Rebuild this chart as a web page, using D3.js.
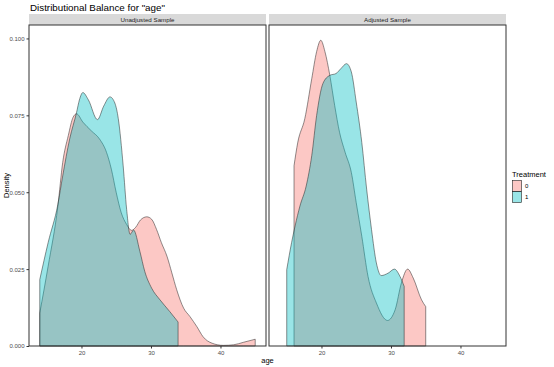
<!DOCTYPE html>
<html>
<head>
<meta charset="utf-8">
<script src="https://cdn.jsdelivr.net/npm/d3@7"></script>
<style>
  body { margin: 0; background: #fff; }
  svg { display: block; font-family: "Liberation Sans", Arial, sans-serif; }
</style>
</head>
<body>
<div id="chart"></div>
<script>
// density curves: [age, density]
const panels = ["Unadjusted Sample", "Adjusted Sample"];
const treatments = ["0", "1"];
const colors = { "0": "#F8766D", "1": "#00BFC4" };

const unadj0 = [
  [14.0, 0.0107], [15.2, 0.0259], [16.6, 0.0454], [17.3, 0.0597], [18.1, 0.0684],
  [18.8, 0.0744], [19.3, 0.0755], [20.2, 0.0728], [21.4, 0.0700], [22.6, 0.0673],
  [23.6, 0.0630], [24.3, 0.0575], [25.0, 0.0499], [25.7, 0.0435], [26.5, 0.0395],
  [27.2, 0.0376], [27.8, 0.0386], [28.5, 0.0410], [29.4, 0.0420], [30.1, 0.0412],
  [30.8, 0.0379], [31.5, 0.0336], [32.3, 0.0292], [33.0, 0.0238], [33.7, 0.0183],
  [34.7, 0.0123], [35.6, 0.0096], [36.6, 0.0063], [37.5, 0.0030], [38.8, 0.0009],
  [40.4, 0.0002], [41.9, 0.0004], [43.3, 0.0012], [45.0, 0.0022]
];
const unadj1 = [
  [14.0, 0.0216], [15.2, 0.0336], [16.6, 0.0460], [17.3, 0.0553], [18.3, 0.0673],
  [19.3, 0.0760], [19.7, 0.0800], [20.2, 0.0824], [21.0, 0.0800], [22.3, 0.0736],
  [23.2, 0.0780], [24.1, 0.0810], [24.8, 0.0790], [25.3, 0.0739], [26.0, 0.0586],
  [26.5, 0.0444], [27.0, 0.0363], [27.5, 0.0377], [28.4, 0.0308], [29.1, 0.0243],
  [30.1, 0.0188], [31.3, 0.0150], [32.7, 0.0112], [33.9, 0.0078]
];
const adj0 = [
  [16.05, 0.0586], [16.6, 0.0663], [17.6, 0.0739], [18.6, 0.0869], [19.3, 0.0957],
  [19.9, 0.0994], [20.5, 0.0957], [21.2, 0.0880], [21.9, 0.0782], [22.6, 0.0695],
  [23.4, 0.0630], [24.3, 0.0564], [25.0, 0.0466], [25.8, 0.0357], [26.7, 0.0226],
  [27.9, 0.0140], [29.5, 0.0083], [30.6, 0.0118], [31.5, 0.0205], [32.4, 0.0250],
  [33.2, 0.0221], [34.4, 0.0150], [35.0, 0.0128]
];
const adj1 = [
  [15.0, 0.0248], [15.7, 0.0336], [16.2, 0.0390], [16.9, 0.0455], [17.8, 0.0520],
  [18.6, 0.0619], [19.3, 0.0749], [20.2, 0.0853], [21.2, 0.0880], [22.1, 0.0886],
  [22.8, 0.0902], [23.6, 0.0918], [24.3, 0.0891], [25.0, 0.0793], [25.8, 0.0662],
  [26.5, 0.0510], [27.2, 0.0379], [27.9, 0.0270], [28.6, 0.0229], [29.6, 0.0237],
  [30.5, 0.0250], [31.3, 0.0226], [31.9, 0.0194]
];
const curves = {
  "Unadjusted Sample": { "0": unadj0, "1": unadj1 },
  "Adjusted Sample": { "0": adj0, "1": adj1 }
};
const xTicks = [20, 30, 40];
const yTicks = [0, 0.025, 0.05, 0.075, 0.1];

const width = 554, height = 367;
const panelTop = 25, panelBottom = 346;
const panelX = [[29, 266], [269, 506]];

const svg = d3.select("#chart").append("svg")
    .attr("width", width)
    .attr("height", height);

// shared scales (ggplot style 5% expansion on x, top only on y)
const all = Object.values(curves).flatMap(c => [...c["0"], ...c["1"]]);
const xExt = d3.extent(all, d => d[0]);
const pad = (xExt[1] - xExt[0]) * 0.05;
const yMax = d3.max(all, d => d[1]) * 1.05;
const y = d3.scaleLinear().domain([0, yMax]).range([panelBottom, panelTop]);

svg.append("text")
    .attr("x", 30).attr("y", 10.5)
    .attr("font-size", 9.8)
    .attr("fill", "#000")
    .text('Distributional Balance for "age"');

panels.forEach((name, i) => {
    const [x0, x1] = panelX[i];
    const x = d3.scaleLinear().domain([xExt[0] - pad, xExt[1] + pad]).range([x0, x1]);
    const g = svg.append("g");

    // strip
    g.append("rect")
        .attr("x", x0).attr("y", 14).attr("width", x1 - x0).attr("height", panelTop - 14)
        .attr("fill", "#d9d9d9");
    g.append("text")
        .attr("x", (x0 + x1) / 2).attr("y", 22)
        .attr("text-anchor", "middle")
        .attr("font-size", 6.2)
        .attr("fill", "#1a1a1a")
        .text(name);

    // density areas, 0 first then 1
    const area = d3.area()
        .curve(d3.curveMonotoneX)
        .x(d => x(d[0]))
        .y0(y(0))
        .y1(d => y(d[1]));
    treatments.forEach(t => {
        g.append("path")
            .datum(curves[name][t])
            .attr("d", area)
            .attr("fill", colors[t])
            .attr("fill-opacity", 0.4)
            .attr("stroke", "#222")
            .attr("stroke-width", 0.5);
    });

    // panel border
    g.append("rect")
        .attr("x", x0).attr("y", panelTop).attr("width", x1 - x0).attr("height", panelBottom - panelTop)
        .attr("fill", "none")
        .attr("stroke", "#333")
        .attr("stroke-width", 1);

    // x axis
    const xa = g.append("g").attr("transform", `translate(0,${panelBottom})`)
        .call(d3.axisBottom(x).tickValues(xTicks).tickSize(2.5).tickPadding(2).tickFormat(d3.format("d")));
    xa.select(".domain").remove();
    xa.selectAll("line").attr("stroke", "#333");
    xa.selectAll("text").attr("font-size", 6).attr("fill", "#4d4d4d").attr("font-family", null);

    if (i === 0) {
        const ya = g.append("g").attr("transform", `translate(${x0},0)`)
            .call(d3.axisLeft(y).tickValues(yTicks).tickSize(2.5).tickPadding(2).tickFormat(d3.format(".3f")));
        ya.select(".domain").remove();
        ya.selectAll("line").attr("stroke", "#333");
        ya.selectAll("text").attr("font-size", 6).attr("fill", "#4d4d4d").attr("font-family", null);
    }
});

// axis titles
svg.append("text")
    .attr("x", (panelX[0][0] + panelX[1][1]) / 2).attr("y", 363)
    .attr("text-anchor", "middle")
    .attr("font-size", 7.5)
    .text("age");
svg.append("text")
    .attr("transform", `translate(9,${(panelTop + panelBottom) / 2}) rotate(-90)`)
    .attr("text-anchor", "middle")
    .attr("font-size", 7.5)
    .text("Density");

// legend
const lg = svg.append("g").attr("transform", "translate(512,0)");
lg.append("text").attr("x", 0).attr("y", 177).attr("font-size", 7.5).text("Treatment");
treatments.forEach((t, i) => {
    lg.append("rect")
        .attr("x", 0.5).attr("y", 180.5 + i * 11)
        .attr("width", 9).attr("height", 11)
        .attr("fill", colors[t]).attr("fill-opacity", 0.4)
        .attr("stroke", "#222").attr("stroke-width", 0.6);
    lg.append("text")
        .attr("x", 13).attr("y", 188 + i * 11)
        .attr("font-size", 6)
        .text(t);
});
</script>
</body>
</html>
